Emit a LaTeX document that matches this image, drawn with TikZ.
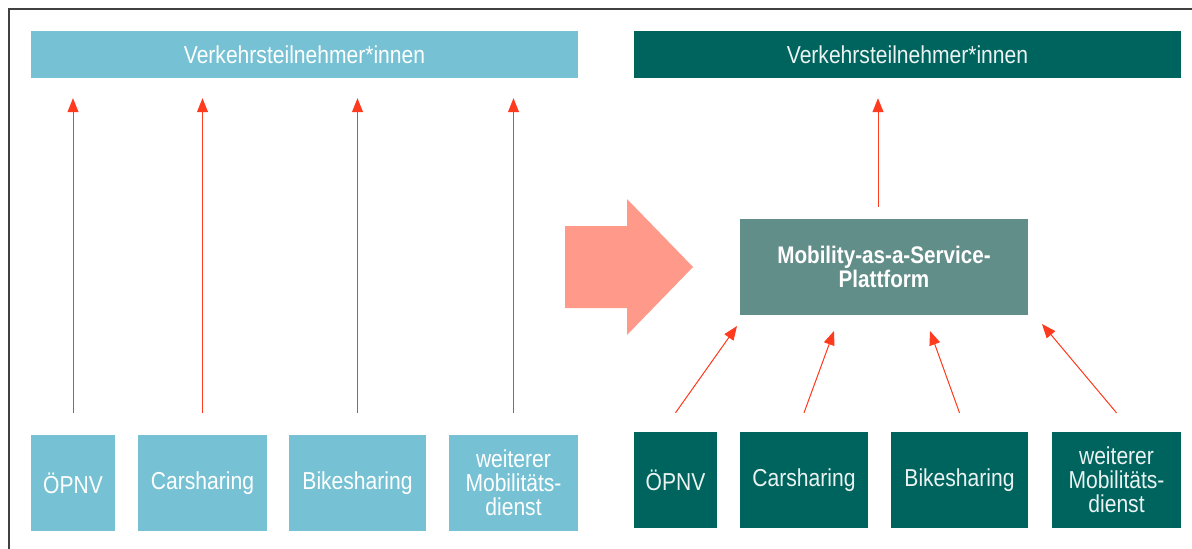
\documentclass[tikz,border=0pt]{standalone}
\usepackage{fontspec}
\setmainfont{Liberation Sans}[FakeStretch=0.86]
\usetikzlibrary{arrows.meta}
\definecolor{hellblau}{HTML}{76C2D4}
\definecolor{dunkelgruen}{HTML}{00645E}
\definecolor{plattform}{HTML}{628E8A}
\definecolor{pfeilrot}{HTML}{FF3B1F}
\definecolor{lachs}{HTML}{FF9A8A}
\begin{document}
\begin{tikzpicture}[x=1pt,y=-1pt,
	box/.style={inner sep=0pt, align=center, text=white, font=\fontsize{24.5}{24}\selectfont},
	hell/.style={box, fill=hellblau},
	dunkel/.style={box, fill=dunkelgruen, text=white!92!dunkelgruen},
	pfeil/.style={-{Triangle[length=14pt,width=11pt]}, draw=pfeilrot, fill=pfeilrot, line width=1pt}]
			\useasboundingbox (0,0) rectangle (1192,549);
			\draw[line width=1.5pt, black!75] (1192,9) -- (9,9) -- (9,549);
			% links: vorher
			\node (v0) [hell, minimum width=547pt, minimum height=47pt] at (304.5,54.5) {Verkehrsteilnehmer*innen};
			\node (a0) [hell, minimum width=84pt, minimum height=96pt] at (73,483) {ÖPNV};
			\node (a1) [hell, minimum width=129pt, minimum height=96pt] at (202.5,483) {Carsharing};
			\node (a2) [hell, minimum width=137pt, minimum height=96pt] at (357.5,483) {Bikesharing};
			\node (a3) [hell, minimum width=129pt, minimum height=96pt] at (513.5,483) {weiterer\\Mobilitäts-\\dienst};
			\draw[pfeil, shorten <=22pt, shorten >=20pt] (a0.north) -- (a0.north |- v0.south);
			\draw[pfeil, shorten <=22pt, shorten >=20pt] (a1.north) -- (a1.north |- v0.south);
			\draw[pfeil, shorten <=22pt, shorten >=20pt] (a2.north) -- (a2.north |- v0.south);
			\draw[pfeil, shorten <=22pt, shorten >=20pt] (a3.north) -- (a3.north |- v0.south);
			% grosser Pfeil
			\fill[lachs] (565,226) -- (627,226) -- (627,199) -- (693,267) -- (627,335) -- (627,308) -- (565,308) -- cycle;
			% rechts: nachher
			\node (v1) [dunkel, minimum width=547pt, minimum height=47pt] at (907.5,54.5) {Verkehrsteilnehmer*innen};
			\node (m) [box, fill=plattform, font=\fontsize{24}{24}\selectfont\bfseries, minimum width=288pt, minimum height=96pt] at (884,267) {Mobility-as-a-Service-\\Plattform};
			\node (b0) [dunkel, minimum width=83pt, minimum height=96pt] at (675.5,480) {ÖPNV};
			\node (b1) [dunkel, minimum width=128pt, minimum height=96pt] at (804,480) {Carsharing};
			\node (b2) [dunkel, minimum width=137pt, minimum height=96pt] at (959.5,480) {Bikesharing};
			\node (b3) [dunkel, minimum width=129pt, minimum height=96pt] at (1116.5,480) {weiterer\\Mobilitäts-\\dienst};
			\coordinate (m0) at (878,207);
			\coordinate (t0) at (737,326);
			\coordinate (t1) at (834,331);
			\coordinate (t2) at (930,331);
			\coordinate (t3) at (1042,324);
			\draw[pfeil, shorten >=20pt] (m0) -- (m0 |- v1.south);
			\draw[pfeil] ([yshift=19pt]b0.north) -- (t0);
			\draw[pfeil] ([yshift=19pt]b1.north) -- (t1);
			\draw[pfeil] ([yshift=19pt]b2.north) -- (t2);
			\draw[pfeil] ([yshift=19pt]b3.north) -- (t3);
		\end{tikzpicture}
\end{document}
